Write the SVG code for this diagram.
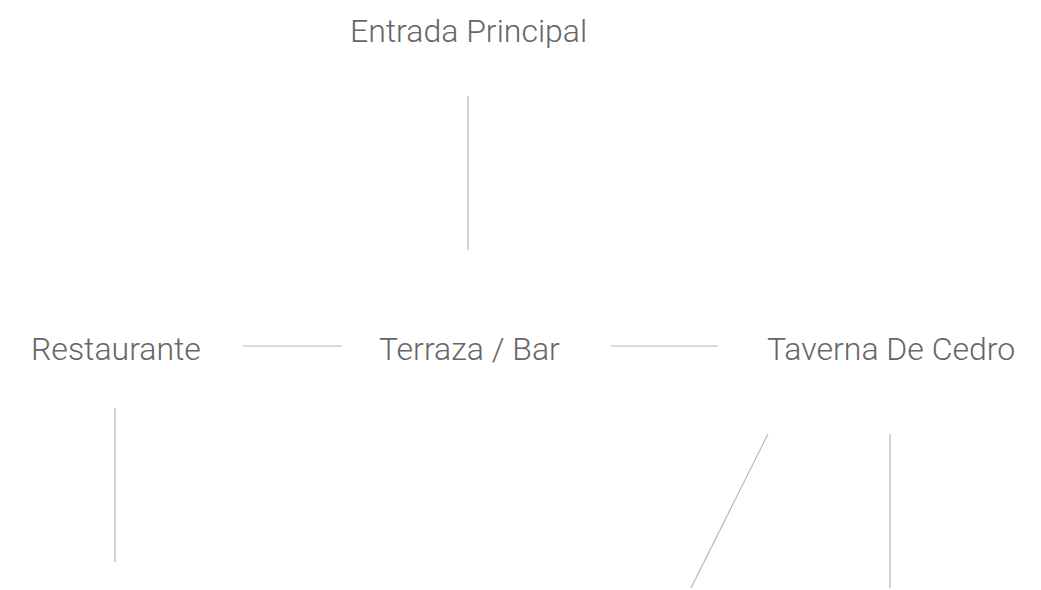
<svg xmlns="http://www.w3.org/2000/svg" width="1041" height="590" viewBox="0 0 1041 590">
<style>
.lbl{font-family:Roboto,"Liberation Sans",sans-serif;font-weight:300;font-size:32px;fill:#666}
.c{stroke:#b4b8b2;stroke-width:1.2;fill:none}
</style>
<rect width="1041" height="590" fill="#fff"/>
<g id="connectors">
<line class="c" x1="468" y1="96" x2="468" y2="250"/>
<line class="c" x1="243" y1="346" x2="342" y2="346"/>
<line class="c" x1="611" y1="346" x2="718" y2="346"/>
<line class="c" x1="115" y1="408" x2="115" y2="562"/>
<line class="c" x1="768" y1="434" x2="691" y2="588"/>
<line class="c" x1="890" y1="434" x2="890" y2="588"/>
</g>
<g id="entrada"><text class="lbl" x="350" y="42">Entrada Principal</text></g>
<g id="restaurante"><text class="lbl" x="31" y="360">Restaurante</text></g>
<g id="terraza"><text class="lbl" x="379" y="360">Terraza / Bar</text></g>
<g id="taverna"><text class="lbl" x="767" y="360">Taverna De Cedro</text></g>
</svg>
